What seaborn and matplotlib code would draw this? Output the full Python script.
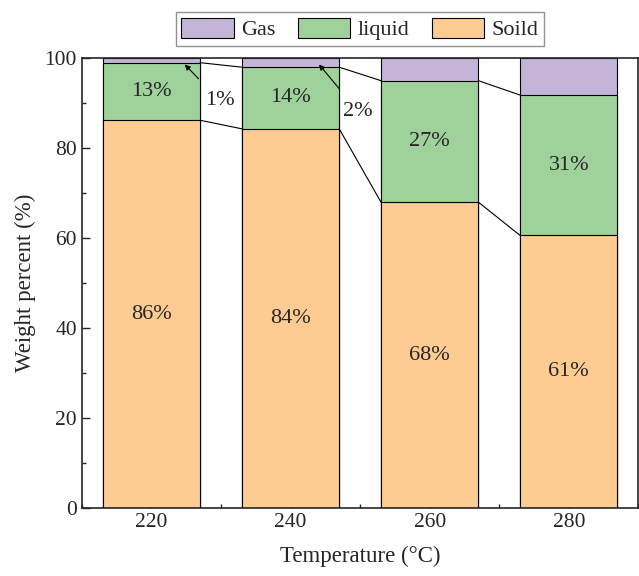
import numpy as np
import pandas as pd
import seaborn as sns
import matplotlib.pyplot as plt
from matplotlib.patches import Patch
from matplotlib.ticker import MultipleLocator

# data
temps = [220, 240, 260, 280]
solid = [86.2, 84.3, 68.0, 60.6]
liquid = [12.8, 13.7, 27.0, 31.2]
gas = [1.0, 2.0, 5.0, 8.2]
solid_labels = ["86%", "84%", "68%", "61%"]
liquid_labels = ["13%", "14%", "27%", "31%"]

C_GAS = "#C3B4D8"
C_LIQ = "#9ED29A"
C_SOL = "#FECB92"

sns.set_theme(style="ticks")
plt.rcParams["font.family"] = ["Liberation Serif", "DejaVu Serif"]

df = pd.DataFrame({"temp": temps, "solid": solid, "liquid": liquid, "gas": gas})
df["liq_top"] = df["solid"] + df["liquid"]
df["gas_top"] = df["liq_top"] + df["gas"]

fig = plt.figure(figsize=(6.39, 5.76), dpi=100)
ax = fig.add_axes([0.128, 0.118, 0.871, 0.781])

kw = dict(native_scale=True, width=0.7, edgecolor="black", linewidth=0.8, ax=ax)
sns.barplot(data=df, x="temp", y="gas_top", color=C_GAS, saturation=1, **kw)
sns.barplot(data=df, x="temp", y="liq_top", color=C_LIQ, saturation=1, **kw)
sns.barplot(data=df, x="temp", y="solid", color=C_SOL, saturation=1, **kw)

# connecting lines between neighbouring bars
half = 7
for i in range(len(temps) - 1):
    for col in ["solid", "liq_top"]:
        ax.plot([temps[i] + half, temps[i + 1] - half], [df[col][i], df[col][i + 1]],
                color="black", lw=0.8, zorder=3)

# percentage labels
for i, t in enumerate(temps):
    ax.text(t, solid[i] / 2, solid_labels[i], ha="center", va="center", fontsize=16)
    ax.text(t, solid[i] + liquid[i] / 2, liquid_labels[i], ha="center", va="center", fontsize=16)

# small gas fractions with arrows
arrow = dict(arrowstyle="-|>", color="black", lw=0.8, shrinkA=9, shrinkB=0, mutation_scale=8)
ax.annotate("1%", xy=(224.8, 98.6), xytext=(229.8, 90.6), ha="center", va="center",
            fontsize=16, arrowprops=arrow)
ax.annotate("2%", xy=(244.1, 98.6), xytext=(249.7, 88.2), ha="center", va="center",
            fontsize=16, arrowprops=arrow)

ax.set_xlim(210, 290)
ax.set_ylim(0, 100)
ax.xaxis.set_major_locator(MultipleLocator(20))
ax.xaxis.set_minor_locator(MultipleLocator(10))
ax.yaxis.set_major_locator(MultipleLocator(20))
ax.yaxis.set_minor_locator(MultipleLocator(10))
ax.tick_params(which="both", direction="in", labelsize=15.5, width=1)
ax.tick_params(which="major", length=6)
ax.tick_params(which="minor", length=3)
for s in ax.spines.values():
    s.set_visible(True)
    s.set_linewidth(1.2)

ax.set_xlabel("Temperature (°C)", fontsize=16.5, labelpad=10)
ax.set_ylabel("Weight percent (%)", fontsize=16.5, labelpad=6)

handles = [Patch(facecolor=C_GAS, edgecolor="black", lw=0.8, label="Gas"),
           Patch(facecolor=C_LIQ, edgecolor="black", lw=0.8, label="liquid"),
           Patch(facecolor=C_SOL, edgecolor="black", lw=0.8, label="Soild")]
leg = ax.legend(handles=handles, ncol=3, loc="lower center", bbox_to_anchor=(0.5, 1.027),
                fontsize=16, frameon=True, fancybox=False, handlelength=2.35,
                handleheight=1.0, columnspacing=1.0, handletextpad=0.35,
                borderpad=0.25, borderaxespad=0)
leg.get_frame().set_edgecolor("#777777")
leg.get_frame().set_linewidth(1.0)

fig.savefig("out.png", dpi=100)
